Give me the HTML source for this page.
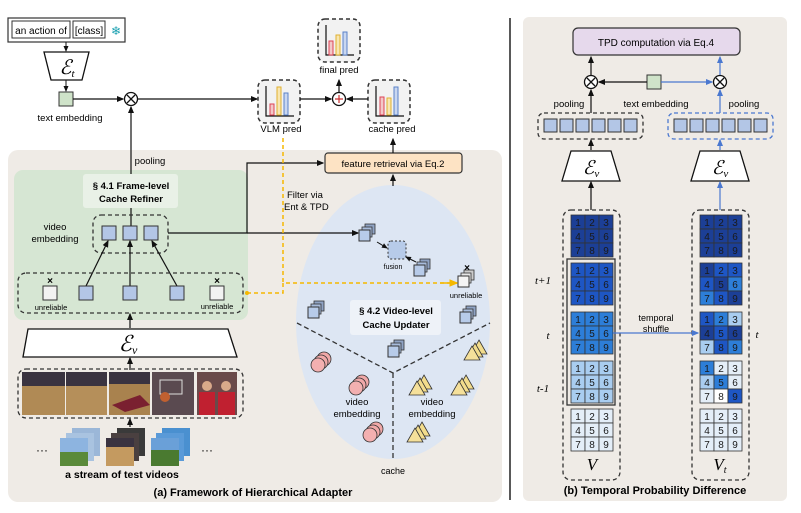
<!DOCTYPE html>
<html><head><meta charset="utf-8"><style>
html,body{margin:0;padding:0;background:#fff;}
svg{display:block;font-family:"Liberation Sans",sans-serif;}
</style></head><body>
<svg width="801" height="513" viewBox="0 0 801 513" xmlns="http://www.w3.org/2000/svg">
<defs>
<marker id="a" markerWidth="6" markerHeight="6" refX="5" refY="3" orient="auto"><path d="M0,0.5 L6,3 L0,5.5z" fill="#111"/></marker>
<marker id="ab" markerWidth="6" markerHeight="6" refX="5" refY="3" orient="auto"><path d="M0,0.5 L6,3 L0,5.5z" fill="#4a78d0"/></marker>
<marker id="ay" markerWidth="6" markerHeight="6" refX="5" refY="3" orient="auto"><path d="M0,0.5 L6,3 L0,5.5z" fill="#f5b800"/></marker>
<g id="chart">
<rect x="0" y="0" width="42" height="43" rx="7" fill="#f2f2f2" stroke="#333" stroke-width="1.5" stroke-dasharray="4,3"/>
<path d="M8,6 V36 H36" fill="none" stroke="#111" stroke-width="1.2"/>
</g>
<g id="sq"><rect x="6" y="0" width="10" height="10" fill="#8fa3c4" stroke="#333" stroke-width="0.8"/><rect x="3" y="3" width="10" height="10" fill="#a8bcdc" stroke="#333" stroke-width="0.8"/><rect x="0" y="6" width="11" height="11" fill="#b7cbe9" stroke="#333" stroke-width="1"/></g>
<g id="wsq"><rect x="6" y="0" width="10" height="10" fill="#ccc" stroke="#333" stroke-width="0.8"/><rect x="3" y="3" width="10" height="10" fill="#e6e6e6" stroke="#333" stroke-width="0.8"/><rect x="0" y="6" width="11" height="11" fill="#f4f4f4" stroke="#333" stroke-width="1"/></g>
<g id="cir"><circle cx="14" cy="7" r="7" fill="#f0a8a8" stroke="#333" stroke-width="0.8"/><circle cx="11" cy="10" r="7" fill="#f0a8a8" stroke="#333" stroke-width="0.8"/><circle cx="8" cy="13" r="7" fill="#f3b0b0" stroke="#333" stroke-width="0.8"/></g>
<g id="tri"><path d="M14,0 L22,14 L6,14z" fill="#f2dc8c" stroke="#333" stroke-width="0.8"/><path d="M10,3 L18,17 L2,17z" fill="#f2dc8c" stroke="#333" stroke-width="0.8"/><path d="M7,6 L15,20 L-1,20z" fill="#f5e09a" stroke="#333" stroke-width="0.8"/></g>
<g id="ot"><circle cx="0" cy="0" r="6.5" fill="#fff" stroke="#111" stroke-width="1.3"/><path d="M-4,-4 L4,4 M4,-4 L-4,4" stroke="#111" stroke-width="1.3"/></g>
</defs>

<!-- left background -->
<rect x="8" y="150" width="494" height="352" rx="10" fill="#efebe6"/>
<rect x="14" y="170" width="234" height="150" rx="9" fill="#d6e6d3"/>
<ellipse cx="393" cy="322" rx="97" ry="137" fill="#dde6f3"/>

<!-- top text box -->
<rect x="8" y="18" width="117" height="24" fill="#fff" stroke="#333" stroke-width="1.2"/>
<rect x="12" y="21" width="58" height="17" fill="#fff" stroke="#333"/>
<text x="41" y="34" font-size="10" text-anchor="middle">an action of</text>
<rect x="73" y="21" width="32" height="17" fill="#fff" stroke="#333"/>
<text x="89" y="34" font-size="10" text-anchor="middle">[class]</text>
<text x="116" y="35" font-size="12" text-anchor="middle" fill="#1aa0b0">❄</text>
<line x1="66" y1="42" x2="66" y2="51" stroke="#111" marker-end="url(#a)"/>
<path d="M44,52 H89 L82,80 H51z" fill="#fff" stroke="#111" stroke-width="1.3"/>
<text x="67" y="74" font-size="20" font-family="Liberation Serif,serif" font-style="italic" text-anchor="middle">ℰ<tspan font-size="11" dy="3">t</tspan></text>
<line x1="66" y1="80" x2="66" y2="91" stroke="#111" marker-end="url(#a)"/>
<rect x="59" y="92" width="14" height="14" fill="#cfe3c9" stroke="#333"/>
<text x="70" y="121" font-size="9.5" text-anchor="middle">text embedding</text>
<line x1="73" y1="99" x2="123" y2="99" stroke="#111" stroke-width="1.2" marker-end="url(#a)"/>
<use href="#ot" x="131" y="99"/>
<line x1="138" y1="99" x2="257" y2="99" stroke="#111" stroke-width="1.2" marker-end="url(#a)"/>
<line x1="131" y1="228" x2="131" y2="107" stroke="#111" stroke-width="1.2" marker-end="url(#a)"/>
<text x="150" y="164" font-size="9.5" text-anchor="middle">pooling</text>

<!-- charts -->
<use href="#chart" x="258" y="80"/>
<rect x="270" y="104" width="4" height="11" fill="#f3c8c8" stroke="#d45"/><rect x="277" y="87" width="4" height="28" fill="#f8e6b0" stroke="#e0b030"/><rect x="284" y="93" width="4" height="22" fill="#c9d7f0" stroke="#5a82c8"/>
<use href="#chart" x="368" y="80"/>
<rect x="380" y="97" width="4" height="18" fill="#f3c8c8" stroke="#d45"/><rect x="387" y="98" width="4" height="17" fill="#f8e6b0" stroke="#e0b030"/><rect x="394" y="87" width="4" height="28" fill="#c9d7f0" stroke="#5a82c8"/>
<use href="#chart" x="318" y="19"/>
<rect x="329" y="41" width="4" height="14" fill="#f3c8c8" stroke="#d45"/><rect x="336" y="35" width="4" height="20" fill="#f8e6b0" stroke="#e0b030"/><rect x="343" y="32" width="4" height="23" fill="#c9d7f0" stroke="#5a82c8"/>
<text x="339" y="73" font-size="9.5" text-anchor="middle">final pred</text>
<text x="281" y="132" font-size="9.5" text-anchor="middle">VLM pred</text>
<text x="392" y="132" font-size="9.5" text-anchor="middle">cache pred</text>
<line x1="300" y1="99" x2="331" y2="99" stroke="#111" stroke-width="1.2" marker-end="url(#a)"/>
<line x1="368" y1="99" x2="347" y2="99" stroke="#111" stroke-width="1.2" marker-end="url(#a)"/>
<circle cx="339" cy="99" r="6.5" fill="#fff" stroke="#111" stroke-width="1.3"/><path d="M335,99 H343 M339,95 V103" stroke="#c33" stroke-width="1.2"/>
<line x1="339" y1="92" x2="339" y2="80" stroke="#111" stroke-width="1.2" marker-end="url(#a)"/>

<!-- feature retrieval -->
<rect x="325" y="153" width="137" height="20" rx="3" fill="#fde3c4" stroke="#333" stroke-width="1.2"/>
<text x="393" y="167" font-size="9.5" text-anchor="middle">feature retrieval via Eq.2</text>
<line x1="393" y1="153" x2="393" y2="139" stroke="#111" stroke-width="1.2" marker-end="url(#a)"/>
<line x1="393" y1="186" x2="393" y2="175" stroke="#111" stroke-width="1.2" marker-end="url(#a)"/>
<path d="M168,233 H247 V163 H323" fill="none" stroke="#111" stroke-width="1.2" marker-end="url(#a)"/>
<line x1="247" y1="233" x2="358" y2="233" stroke="#111" stroke-width="1.2" marker-end="url(#a)"/>

<!-- yellow dashed -->
<path d="M283,138 V283 M247,293 H283 V283 H457" fill="none" stroke="#f5b800" stroke-width="1.5" stroke-dasharray="4,3"/>
<line x1="440" y1="283" x2="457" y2="283" stroke="#f5b800" stroke-width="1.5" marker-end="url(#ay)"/>
<circle cx="247" cy="293" r="2" fill="#f5b800"/>
<text x="287" y="198" font-size="9.5">Filter via</text>
<text x="284" y="210" font-size="9.5">Ent &amp; TPD</text>

<!-- frame-level -->
<rect x="83" y="174" width="95" height="34" rx="3" fill="#e9f1e7"/>
<text x="131" y="189" font-size="9.5" font-weight="bold" text-anchor="middle">§ 4.1 Frame-level</text>
<text x="131" y="202" font-size="9.5" font-weight="bold" text-anchor="middle">Cache Refiner</text>
<text x="55" y="230" font-size="9.5" text-anchor="middle">video</text>
<text x="55" y="242" font-size="9.5" text-anchor="middle">embedding</text>
<rect x="93" y="215" width="75" height="38" rx="8" fill="none" stroke="#333" stroke-width="1.3" stroke-dasharray="4,3"/>
<rect x="102" y="226" width="14" height="14" fill="#b3c6e6" stroke="#333"/>
<rect x="123" y="226" width="14" height="14" fill="#b3c6e6" stroke="#333"/>
<rect x="144" y="226" width="14" height="14" fill="#b3c6e6" stroke="#333"/>
<line x1="86" y1="286" x2="108" y2="241" stroke="#111" stroke-width="1.2" marker-end="url(#a)"/>
<line x1="130" y1="286" x2="130" y2="241" stroke="#111" stroke-width="1.2" marker-end="url(#a)"/>
<line x1="177" y1="286" x2="152" y2="241" stroke="#111" stroke-width="1.2" marker-end="url(#a)"/>
<rect x="18" y="273" width="225" height="40" rx="8" fill="none" stroke="#333" stroke-width="1.3" stroke-dasharray="4,3"/>
<rect x="43" y="286" width="14" height="14" fill="#f2f2f2" stroke="#333"/>
<rect x="79" y="286" width="14" height="14" fill="#b3c6e6" stroke="#333"/>
<rect x="123" y="286" width="14" height="14" fill="#b3c6e6" stroke="#333"/>
<rect x="170" y="286" width="14" height="14" fill="#b3c6e6" stroke="#333"/>
<rect x="210" y="286" width="14" height="14" fill="#f2f2f2" stroke="#333"/>
<text x="50" y="284" font-size="10" font-weight="bold" text-anchor="middle">×</text>
<text x="217" y="284" font-size="10" font-weight="bold" text-anchor="middle">×</text>
<text x="51" y="310" font-size="7.5" text-anchor="middle">unreliable</text>
<text x="217" y="309" font-size="7.5" text-anchor="middle">unreliable</text>
<line x1="130" y1="328" x2="130" y2="314" stroke="#111" stroke-width="1.2" marker-end="url(#a)"/>
<path d="M28,329 H228 L237,357 H23z" fill="#fff" stroke="#111" stroke-width="1.3"/>
<text x="128" y="351" font-size="22" font-family="Liberation Serif,serif" font-style="italic" text-anchor="middle">ℰ<tspan font-size="12" dy="3">v</tspan></text>
<line x1="130" y1="370" x2="130" y2="358" stroke="#111" stroke-width="1.2" marker-end="url(#a)"/>
<rect x="18" y="369" width="225" height="49" rx="8" fill="none" stroke="#333" stroke-width="1.3" stroke-dasharray="4,3"/>
<rect x="22" y="372" width="43" height="43" fill="#b08a55"/><rect x="22" y="372" width="43" height="14" fill="#3a3340"/>
<rect x="66" y="372" width="41" height="43" fill="#b58f5a"/><rect x="66" y="372" width="41" height="14" fill="#3a3340"/>
<rect x="109" y="372" width="41" height="43" fill="#a9824e"/><rect x="109" y="372" width="41" height="12" fill="#3a3340"/><path d="M112,405 L140,395 L150,405 L125,412z" fill="#7a2030"/>
<rect x="152" y="372" width="42" height="43" fill="#5a4a50"/><rect x="160" y="380" width="22" height="14" fill="none" stroke="#ddd"/><circle cx="165" cy="397" r="5" fill="#c06030"/>
<rect x="197" y="372" width="40" height="43" fill="#6a4a4a"/><rect x="199" y="392" width="16" height="23" fill="#c02030"/><rect x="218" y="392" width="17" height="23" fill="#c02030"/><circle cx="207" cy="386" r="5" fill="#d9a98a"/><circle cx="226" cy="386" r="5" fill="#d9a98a"/>
<line x1="130" y1="427" x2="130" y2="419" stroke="#111" stroke-width="1.2" marker-end="url(#a)"/>
<text x="42" y="454" font-size="12" text-anchor="middle">···</text>
<text x="207" y="454" font-size="12" text-anchor="middle">···</text>
<g><rect x="72" y="428" width="28" height="28" fill="#9bb7d8"/><rect x="66" y="433" width="28" height="28" fill="#a9c3e0"/><rect x="60" y="438" width="28" height="28" fill="#8db4e0"/><rect x="60" y="452" width="28" height="14" fill="#5a8a3a"/></g>
<g><rect x="117" y="428" width="28" height="28" fill="#3a3a3a"/><rect x="111" y="433" width="28" height="28" fill="#4a4040"/><rect x="106" y="438" width="28" height="28" fill="#c49a60"/><rect x="106" y="438" width="28" height="9" fill="#3a3340"/></g>
<g><rect x="162" y="428" width="28" height="28" fill="#4a90d0"/><rect x="156" y="433" width="28" height="28" fill="#5a9ad8"/><rect x="151" y="438" width="28" height="28" fill="#6aa0d8"/><rect x="151" y="450" width="28" height="16" fill="#4a7a30"/></g>
<text x="122" y="478" font-size="10.5" font-weight="bold" text-anchor="middle">a stream of test videos</text>
<text x="253" y="496" font-size="11" font-weight="bold" text-anchor="middle">(a) Framework of Hierarchical Adapter</text>

<!-- ellipse contents -->
<use href="#sq" x="359" y="224"/>
<rect x="388" y="241" width="18" height="18" rx="3" fill="#b7cbe9" stroke="#333" stroke-dasharray="2,2"/>
<line x1="377" y1="242" x2="387" y2="248" stroke="#111" marker-end="url(#a)"/>
<line x1="416" y1="262" x2="406" y2="257" stroke="#111" marker-end="url(#a)"/>
<text x="393" y="269" font-size="7" text-anchor="middle">fusion</text>
<use href="#sq" x="414" y="259"/>
<use href="#wsq" x="458" y="270"/>
<text x="467" y="271" font-size="10" font-weight="bold" text-anchor="middle">×</text>
<text x="466" y="298" font-size="7.5" text-anchor="middle">unreliable</text>
<path d="M297,323 L393,373 L490,323 M393,373 V460" fill="none" stroke="#333" stroke-width="1.3" stroke-dasharray="5,3"/>
<rect x="350" y="300" width="91" height="35" rx="3" fill="#eef2f8"/>
<text x="396" y="314" font-size="9.5" font-weight="bold" text-anchor="middle">§ 4.2 Video-level</text>
<text x="396" y="328" font-size="9.5" font-weight="bold" text-anchor="middle">Cache Updater</text>
<use href="#sq" x="308" y="301"/>
<use href="#sq" x="460" y="306"/>
<use href="#sq" x="388" y="340"/>
<use href="#cir" x="310" y="352"/>
<use href="#cir" x="348" y="375"/>
<use href="#cir" x="362" y="422"/>
<use href="#tri" x="465" y="340"/>
<use href="#tri" x="410" y="375"/>
<use href="#tri" x="452" y="375"/>
<use href="#tri" x="408" y="422"/>
<text x="357" y="405" font-size="9.5" text-anchor="middle">video</text>
<text x="357" y="417" font-size="9.5" text-anchor="middle">embedding</text>
<text x="432" y="405" font-size="9.5" text-anchor="middle">video</text>
<text x="432" y="417" font-size="9.5" text-anchor="middle">embedding</text>
<text x="393" y="474" font-size="9" text-anchor="middle">cache</text>

<!-- separator -->
<line x1="510" y1="18" x2="510" y2="500" stroke="#222" stroke-width="1.5"/>

<!-- right panel -->
<rect x="523" y="17" width="264" height="484" rx="6" fill="#efebe6"/>
<rect x="573" y="28" width="167" height="27" rx="5" fill="#e6d9ec" stroke="#333" stroke-width="1.2"/>
<text x="656" y="46" font-size="10" text-anchor="middle">TPD computation via Eq.4</text>
<use href="#ot" x="591" y="82"/>
<use href="#ot" x="720" y="82"/>
<line x1="591" y1="75" x2="591" y2="57" stroke="#111" stroke-width="1.2" marker-end="url(#a)"/>
<line x1="720" y1="75" x2="720" y2="57" stroke="#4a78d0" stroke-width="1.2" marker-end="url(#ab)"/>
<rect x="647" y="75" width="14" height="14" fill="#cfe3c9" stroke="#333"/>
<line x1="647" y1="82" x2="599" y2="82" stroke="#111" stroke-width="1.2" marker-end="url(#a)"/>
<line x1="661" y1="82" x2="712" y2="82" stroke="#4a78d0" stroke-width="1.2" marker-end="url(#ab)"/>
<text x="569" y="107" font-size="9.5" text-anchor="middle">pooling</text>
<text x="656" y="107" font-size="9.5" text-anchor="middle">text embedding</text>
<text x="744" y="107" font-size="9.5" text-anchor="middle">pooling</text>
<line x1="591" y1="113" x2="591" y2="90" stroke="#111" stroke-width="1.2" marker-end="url(#a)"/>
<line x1="720" y1="113" x2="720" y2="90" stroke="#4a78d0" stroke-width="1.2" marker-end="url(#ab)"/>
<rect x="538" y="113" width="105" height="26" rx="6" fill="none" stroke="#333" stroke-width="1.3" stroke-dasharray="4,3"/>
<rect x="668" y="113" width="105" height="26" rx="6" fill="none" stroke="#4a78d0" stroke-width="1.3" stroke-dasharray="4,3"/>
<g fill="#b3c6e6" stroke="#333">
<rect x="544" y="119" width="13" height="13"/><rect x="560" y="119" width="13" height="13"/><rect x="576" y="119" width="13" height="13"/><rect x="592" y="119" width="13" height="13"/><rect x="608" y="119" width="13" height="13"/><rect x="624" y="119" width="13" height="13"/>
<rect x="674" y="119" width="13" height="13"/><rect x="690" y="119" width="13" height="13"/><rect x="706" y="119" width="13" height="13"/><rect x="722" y="119" width="13" height="13"/><rect x="738" y="119" width="13" height="13"/><rect x="754" y="119" width="13" height="13"/>
</g>
<line x1="591" y1="150" x2="591" y2="140" stroke="#111" stroke-width="1.2" marker-end="url(#a)"/>
<line x1="720" y1="150" x2="720" y2="140" stroke="#4a78d0" stroke-width="1.2" marker-end="url(#ab)"/>
<path d="M571,151 H611 L620,181 H562z" fill="#fff" stroke="#111" stroke-width="1.3"/>
<path d="M700,151 H740 L749,181 H691z" fill="#fff" stroke="#111" stroke-width="1.3"/>
<text x="591" y="174" font-size="19" font-family="Liberation Serif,serif" font-style="italic" text-anchor="middle">ℰ<tspan font-size="11" dy="3">v</tspan></text>
<text x="720" y="174" font-size="19" font-family="Liberation Serif,serif" font-style="italic" text-anchor="middle">ℰ<tspan font-size="11" dy="3">v</tspan></text>
<line x1="591" y1="210" x2="591" y2="182" stroke="#111" stroke-width="1.2" marker-end="url(#a)"/>
<line x1="720" y1="210" x2="720" y2="182" stroke="#4a78d0" stroke-width="1.2" marker-end="url(#ab)"/>
<rect x="563" y="210" width="57" height="270" rx="8" fill="none" stroke="#333" stroke-width="1.3" stroke-dasharray="4,3"/>
<rect x="692" y="210" width="57" height="270" rx="8" fill="none" stroke="#333" stroke-width="1.3" stroke-dasharray="4,3"/>
<rect x="567" y="259" width="48" height="146" fill="none" stroke="#333" stroke-width="1.3"/>

<g stroke="#333" stroke-width="0.8" font-size="10" text-anchor="middle">
<!-- left grids -->
<g fill="#1c3f96"><rect x="571" y="215" width="14" height="14"/><rect x="585" y="215" width="14" height="14"/><rect x="599" y="215" width="14" height="14"/><rect x="571" y="229" width="14" height="14"/><rect x="585" y="229" width="14" height="14"/><rect x="599" y="229" width="14" height="14"/><rect x="571" y="243" width="14" height="14"/><rect x="585" y="243" width="14" height="14"/><rect x="599" y="243" width="14" height="14"/></g>
<g fill="#1e56c4"><rect x="571" y="263" width="14" height="14"/><rect x="585" y="263" width="14" height="14"/><rect x="599" y="263" width="14" height="14"/><rect x="571" y="277" width="14" height="14"/><rect x="585" y="277" width="14" height="14"/><rect x="599" y="277" width="14" height="14"/><rect x="571" y="291" width="14" height="14"/><rect x="585" y="291" width="14" height="14"/><rect x="599" y="291" width="14" height="14"/></g>
<g fill="#2d7ed8"><rect x="571" y="312" width="14" height="14"/><rect x="585" y="312" width="14" height="14"/><rect x="599" y="312" width="14" height="14"/><rect x="571" y="326" width="14" height="14"/><rect x="585" y="326" width="14" height="14"/><rect x="599" y="326" width="14" height="14"/><rect x="571" y="340" width="14" height="14"/><rect x="585" y="340" width="14" height="14"/><rect x="599" y="340" width="14" height="14"/></g>
<g fill="#a9cdf0"><rect x="571" y="361" width="14" height="14"/><rect x="585" y="361" width="14" height="14"/><rect x="599" y="361" width="14" height="14"/><rect x="571" y="375" width="14" height="14"/><rect x="585" y="375" width="14" height="14"/><rect x="599" y="375" width="14" height="14"/><rect x="571" y="389" width="14" height="14"/><rect x="585" y="389" width="14" height="14"/><rect x="599" y="389" width="14" height="14"/></g>
<g fill="#e4eef8"><rect x="571" y="409" width="14" height="14"/><rect x="585" y="409" width="14" height="14"/><rect x="599" y="409" width="14" height="14"/><rect x="571" y="423" width="14" height="14"/><rect x="585" y="423" width="14" height="14"/><rect x="599" y="423" width="14" height="14"/><rect x="571" y="437" width="14" height="14"/><rect x="585" y="437" width="14" height="14"/><rect x="599" y="437" width="14" height="14"/></g>
<!-- right grids -->
<g fill="#1c3f96"><rect x="700" y="215" width="14" height="14"/><rect x="714" y="215" width="14" height="14"/><rect x="728" y="215" width="14" height="14"/><rect x="700" y="229" width="14" height="14"/><rect x="714" y="229" width="14" height="14"/><rect x="728" y="229" width="14" height="14"/><rect x="700" y="243" width="14" height="14"/><rect x="714" y="243" width="14" height="14"/><rect x="728" y="243" width="14" height="14"/></g>
<rect x="700" y="263" width="14" height="14" fill="#1c3f96"/><rect x="714" y="263" width="14" height="14" fill="#1e56c4"/><rect x="728" y="263" width="14" height="14" fill="#1e56c4"/>
<rect x="700" y="277" width="14" height="14" fill="#1e56c4"/><rect x="714" y="277" width="14" height="14" fill="#1c3f96"/><rect x="728" y="277" width="14" height="14" fill="#2d7ed8"/>
<rect x="700" y="291" width="14" height="14" fill="#2d7ed8"/><rect x="714" y="291" width="14" height="14" fill="#1e56c4"/><rect x="728" y="291" width="14" height="14" fill="#1c3f96"/>
<rect x="700" y="312" width="14" height="14" fill="#1e56c4"/><rect x="714" y="312" width="14" height="14" fill="#2d7ed8"/><rect x="728" y="312" width="14" height="14" fill="#a9cdf0"/>
<rect x="700" y="326" width="14" height="14" fill="#1c3f96"/><rect x="714" y="326" width="14" height="14" fill="#1e56c4"/><rect x="728" y="326" width="14" height="14" fill="#1c3f96"/>
<rect x="700" y="340" width="14" height="14" fill="#a9cdf0"/><rect x="714" y="340" width="14" height="14" fill="#1e56c4"/><rect x="728" y="340" width="14" height="14" fill="#2d7ed8"/>
<rect x="700" y="361" width="14" height="14" fill="#2d7ed8"/><rect x="714" y="361" width="14" height="14" fill="#e4eef8"/><rect x="728" y="361" width="14" height="14" fill="#e4eef8"/>
<rect x="700" y="375" width="14" height="14" fill="#a9cdf0"/><rect x="714" y="375" width="14" height="14" fill="#2d7ed8"/><rect x="728" y="375" width="14" height="14" fill="#e4eef8"/>
<rect x="700" y="389" width="14" height="14" fill="#e4eef8"/><rect x="714" y="389" width="14" height="14" fill="#ffffff"/><rect x="728" y="389" width="14" height="14" fill="#1e56c4"/>
<g fill="#e4eef8"><rect x="700" y="409" width="14" height="14"/><rect x="714" y="409" width="14" height="14"/><rect x="728" y="409" width="14" height="14"/><rect x="700" y="423" width="14" height="14"/><rect x="714" y="423" width="14" height="14"/><rect x="728" y="423" width="14" height="14"/><rect x="700" y="437" width="14" height="14"/><rect x="714" y="437" width="14" height="14"/><rect x="728" y="437" width="14" height="14"/></g>
</g>
<g font-size="10" text-anchor="middle" fill="#1a1a1a">
<text x="578" y="226">1</text><text x="592" y="226">2</text><text x="606" y="226">3</text><text x="578" y="240">4</text><text x="592" y="240">5</text><text x="606" y="240">6</text><text x="578" y="254">7</text><text x="592" y="254">8</text><text x="606" y="254">9</text>
<text x="578" y="274">1</text><text x="592" y="274">2</text><text x="606" y="274">3</text><text x="578" y="288">4</text><text x="592" y="288">5</text><text x="606" y="288">6</text><text x="578" y="302">7</text><text x="592" y="302">8</text><text x="606" y="302">9</text>
<text x="578" y="323">1</text><text x="592" y="323">2</text><text x="606" y="323">3</text><text x="578" y="337">4</text><text x="592" y="337">5</text><text x="606" y="337">6</text><text x="578" y="351">7</text><text x="592" y="351">8</text><text x="606" y="351">9</text>
<text x="578" y="372">1</text><text x="592" y="372">2</text><text x="606" y="372">3</text><text x="578" y="386">4</text><text x="592" y="386">5</text><text x="606" y="386">6</text><text x="578" y="400">7</text><text x="592" y="400">8</text><text x="606" y="400">9</text>
<text x="578" y="420">1</text><text x="592" y="420">2</text><text x="606" y="420">3</text><text x="578" y="434">4</text><text x="592" y="434">5</text><text x="606" y="434">6</text><text x="578" y="448">7</text><text x="592" y="448">8</text><text x="606" y="448">9</text>
<text x="707" y="226">1</text><text x="721" y="226">2</text><text x="735" y="226">3</text><text x="707" y="240">4</text><text x="721" y="240">5</text><text x="735" y="240">6</text><text x="707" y="254">7</text><text x="721" y="254">8</text><text x="735" y="254">9</text>
<text x="707" y="274">1</text><text x="721" y="274">2</text><text x="735" y="274">3</text><text x="707" y="288">4</text><text x="721" y="288">5</text><text x="735" y="288">6</text><text x="707" y="302">7</text><text x="721" y="302">8</text><text x="735" y="302">9</text>
<text x="707" y="323">1</text><text x="721" y="323">2</text><text x="735" y="323">3</text><text x="707" y="337">4</text><text x="721" y="337">5</text><text x="735" y="337">6</text><text x="707" y="351">7</text><text x="721" y="351">8</text><text x="735" y="351">9</text>
<text x="707" y="372">1</text><text x="721" y="372">2</text><text x="735" y="372">3</text><text x="707" y="386">4</text><text x="721" y="386">5</text><text x="735" y="386">6</text><text x="707" y="400">7</text><text x="721" y="400">8</text><text x="735" y="400">9</text>
<text x="707" y="420">1</text><text x="721" y="420">2</text><text x="735" y="420">3</text><text x="707" y="434">4</text><text x="721" y="434">5</text><text x="735" y="434">6</text><text x="707" y="448">7</text><text x="721" y="448">8</text><text x="735" y="448">9</text>
</g>
<g font-family="Liberation Serif,serif" font-style="italic" font-size="11" text-anchor="middle">
<text x="543" y="284">t+1</text><text x="548" y="339">t</text><text x="543" y="392">t-1</text><text x="757" y="338">t</text>
</g>
<text x="656" y="321" font-size="9" text-anchor="middle">temporal</text>
<text x="656" y="332" font-size="9" text-anchor="middle">shuffle</text>
<line x1="613" y1="333" x2="698" y2="333" stroke="#4a78d0" stroke-width="1.2" marker-end="url(#ab)"/>
<text x="592" y="470" font-size="17" font-family="Liberation Serif,serif" font-style="italic" text-anchor="middle">V</text>
<text x="720" y="470" font-size="17" font-family="Liberation Serif,serif" font-style="italic" text-anchor="middle">V<tspan font-size="10" dy="3">t</tspan></text>
<text x="655" y="494" font-size="11" font-weight="bold" text-anchor="middle">(b) Temporal Probability Difference</text>
</svg>
</body></html>
